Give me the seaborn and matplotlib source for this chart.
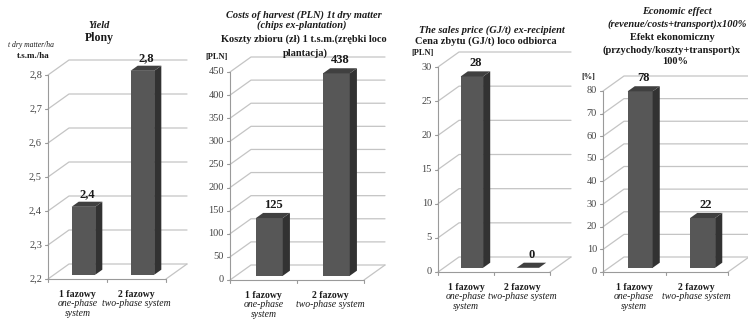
import numpy as np
import pandas as pd
import matplotlib
matplotlib.use("Agg")
import matplotlib.pyplot as plt
import seaborn as sns
from matplotlib.patches import Polygon

# data
categories = ["1 fazowy", "2 fazowy"]
categories_en = ["one-phase\nsystem", "two-phase system"]
yield_vals = [2.4, 2.8]
yield_labels = ["2,4", "2,8"]
cost_vals = [125, 438]
price_vals = [28, 0]
effect_vals = [78, 22]

W, H = 748, 320
FRONT = "#575757"
SIDE = "#323232"
TOP = "#404040"
GRID = "#c4c4c4"
AXIS = "#9a9a9a"
TXT = "#1a1a1a"

sns.set_style("white")
plt.rcParams["font.family"] = ["Liberation Serif", "DejaVu Serif"]

fig = plt.figure(figsize=(W / 100, H / 100), dpi=100)
fig.patch.set_facecolor("white")


def ftext(x, y, s, **kw):
    # place text in image pixel coords (origin top-left)
    kw.setdefault("ha", "center")
    kw.setdefault("va", "center")
    kw.setdefault("color", TXT)
    fig.text(x / W, 1 - y / H, s, **kw)


def panel(left, right, ybot, ytop, vals, ymin, ymax, step, fmt, labels, depth=(21, 15)):
    ax = fig.add_axes([left / W, 1 - ybot / H, (right - left) / W, (ybot - ytop) / H])
    df = pd.DataFrame({"cat": categories, "val": vals})
    sns.barplot(data=df, x="cat", y="val", ax=ax, color=FRONT, width=0.4,
                saturation=1, errorbar=None)
    ax.set_xlim(-0.5, 1.5)
    ax.set_ylim(ymin, ymax)
    ax.axis("off")

    xu = 2.0 / (right - left)           # data units per pixel
    yu = (ymax - ymin) / (ybot - ytop)
    Dx, Dy = depth[0] * xu, depth[1] * yu
    f, b = 0.28, 0.62                   # bar front / back depth

    ticks = np.arange(ymin, ymax + step / 2, step)
    for v in ticks:
        ax.plot([-0.5, -0.5 + Dx, 1.5 + Dx], [v, v + Dy, v + Dy],
                color=GRID, lw=0.9, zorder=1, clip_on=False)
        ax.plot([-0.5 - 3 * xu, -0.5], [v, v], color=AXIS, lw=0.8, clip_on=False)
        ax.text(-0.5 - 6 * xu, v, fmt(v), ha="right", va="center",
                fontsize=7.5, color="#454545")
    ax.plot([-0.5, -0.5], [ymin, ymax], color=AXIS, lw=0.8, clip_on=False, zorder=2)
    ax.plot([1.5, 1.5 + Dx], [ymin, ymin + Dy], color=GRID, lw=0.9, clip_on=False)
    ax.plot([-0.5, 1.5], [ymin, ymin], color=AXIS, lw=0.8, clip_on=False, zorder=2)
    for x in (-0.5, 0.5, 1.5):
        ax.plot([x, x], [ymin, ymin - 3 * yu], color=AXIS, lw=0.8, clip_on=False)

    d = b - f
    for i, (p, v) in enumerate(zip(ax.patches, vals)):
        x0, w = p.get_x(), p.get_width()
        xa, xb = x0 + f * Dx, x0 + w + f * Dx
        ya, yb = ymin + f * Dy, v + f * Dy
        p.set_x(xa)
        p.set_y(ya)
        p.set_height(v - ymin)
        p.set_edgecolor("none")
        p.set_clip_on(False)
        p.set_zorder(4)
        side = Polygon([(xb, ya), (xb + d * Dx, ya + d * Dy), (xb + d * Dx, yb + d * Dy), (xb, yb)],
                       closed=True, facecolor=SIDE, edgecolor="none", zorder=4, clip_on=False)
        top = Polygon([(xa, yb), (xb, yb), (xb + d * Dx, yb + d * Dy), (xa + d * Dx, yb + d * Dy)],
                      closed=True, facecolor=TOP, edgecolor="none", zorder=5, clip_on=False)
        ax.add_patch(side)
        ax.add_patch(top)
        ax.text(i + 0.45 * Dx, v + b * Dy + 2 * yu, labels[i], ha="center", va="bottom",
                fontsize=9, fontweight="bold", color=TXT)

    for i in range(2):
        ax.text(i, ymin - 15 * yu, categories[i], ha="center", va="center",
                fontsize=7, fontweight="bold", color=TXT)
        ax.text(i, ymin - 20 * yu, categories_en[i], ha="center", va="top",
                fontsize=7, style="italic", color=TXT, linespacing=1.1)
    return ax


panel(48, 166, 279, 75, yield_vals, 2.2, 2.8, 0.1,
      lambda v: f"{v:.1f}".replace(".", ","), yield_labels)
panel(230, 364, 280, 72, cost_vals, 0, 450, 50,
      lambda v: f"{v:.0f}", [str(v) for v in cost_vals])
panel(438, 550, 272, 67, price_vals, 0, 30, 5,
      lambda v: f"{v:.0f}", [str(v) for v in price_vals])
panel(603, 728, 272, 91, effect_vals, 0, 80, 10,
      lambda v: f"{v:.0f}", [str(v) for v in effect_vals])

# titles
bi = dict(fontweight="bold", style="italic")
bo = dict(fontweight="bold")
ftext(99, 25, "Yield", fontsize=7.5, **bi)
ftext(99, 38, "Plony", fontsize=8.5, **bo)
ftext(31, 45, "t dry matter/ha", fontsize=5.5, style="italic")
ftext(33, 56, "t.s.m./ha", fontsize=6.5, **bo)

ftext(304, 15, "Costs of harvest (PLN) 1t dry matter", fontsize=7.5, **bi)
ftext(302, 25, "(chips ex-plantation)", fontsize=7.5, **bi)
ftext(304, 39, "Koszty zbioru (zł) 1 t.s.m.(zrębki loco", fontsize=7.5, **bo)
ftext(305, 53, "plantacja)", fontsize=7.5, **bo)
ftext(217, 57, "[PLN]", fontsize=6, **bo)

ftext(492, 30, "The sales price (GJ/t) ex-recipient", fontsize=7.5, **bi)
ftext(486, 41, "Cena zbytu (GJ/t) loco odbiorca", fontsize=7.5, **bo)
ftext(423, 53, "[PLN]", fontsize=6, **bo)

ftext(677, 12, "Economic effect", fontsize=7.5, **bi)
ftext(677, 24, "(revenue/costs+transport)x100%", fontsize=7.5, **bi)
ftext(672, 37, "Efekt ekonomiczny", fontsize=7.5, **bo)
ftext(672, 50, "(przychody/koszty+transport)x", fontsize=7.5, **bo)
ftext(675, 62, "100%", fontsize=7.5, **bo)
ftext(588, 77, "[%]", fontsize=6, **bo)

fig.savefig("out.png", dpi=100, facecolor="white")
